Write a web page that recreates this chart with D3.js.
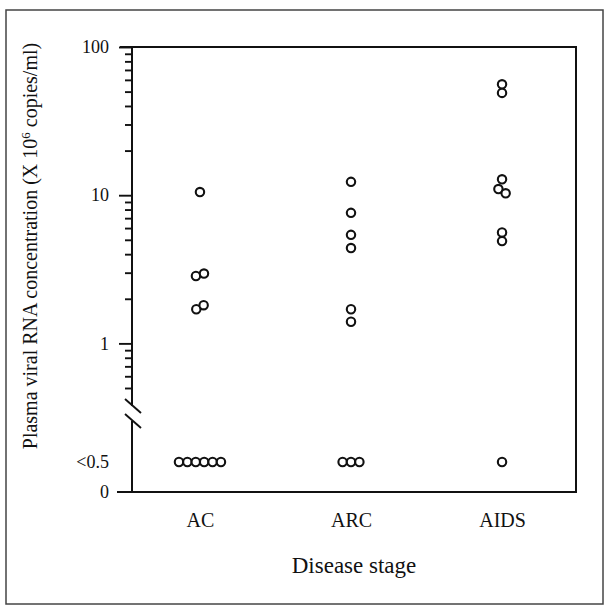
<!DOCTYPE html>
<html>
<head>
<meta charset="utf-8">
<script src="https://cdn.jsdelivr.net/npm/d3@7"></script>
<style>body { margin: 0; background: #fff; }</style>
</head>
<body>
<div id="chart"></div>
<script>
// Disease stages along the x axis
var stages = ['AC', 'ARC', 'AIDS'];
// Plasma viral RNA (x 10^6 copies/ml); null = below detection (<0.5)
var acValues = [10.5, 2.85, 2.96, 1.70, 1.81, null, null, null, null, null, null];
var arcValues = [12.3, 7.6, 5.4, 4.4, 1.7, 1.4, null, null, null];
var aidsValues = [56, 49, 12.8, 11.0, 10.3, 5.6, 4.9, null];
// y axis labels
var majorTicks = [1, 10, 100];
var lowTicks = [0, 0.5];
var lowLabels = ['0', '<0.5'];

var width = 609, height = 609;
var plotLeft = 132, plotRight = 576, plotTop = 47, plotBottom = 492;
var ink = '#111';
var serif = "'Liberation Serif', 'Times New Roman', serif";

var svg = d3.select('#chart')
  .append('svg')
  .attr('width', width)
  .attr('height', height);

// outer frame of the figure
svg.append('rect')
  .attr('x', 6).attr('y', 10)
  .attr('width', 597).attr('height', 594)
  .attr('fill', 'none')
  .attr('stroke', '#444')
  .attr('stroke-width', 1.5);

// scales
var xScale = d3.scalePoint()
  .domain(stages)
  .range([plotLeft, 570])
  .padding(0.45);

var yLog = d3.scaleLog()
  .domain([0.5, 100])
  .range([388, plotTop]);

// below the axis break: "0" and "<0.5"
var yLow = d3.scaleLinear()
  .domain([0, 0.5])
  .range([plotBottom, 462]);

// plot frame (top, right, bottom lines)
svg.append('path')
  .attr('d', 'M' + (plotLeft - 12) + ',' + plotTop + 'H' + plotRight + 'V' + plotBottom + 'H' + (plotLeft - 15))
  .attr('fill', 'none')
  .attr('stroke', ink)
  .attr('stroke-width', 2);

// left axis line with a break
var breakA = 406, breakB = 421;
svg.append('path')
  .attr('d', 'M' + plotLeft + ',' + plotTop + 'V' + breakA + 'M' + plotLeft + ',' + breakB + 'V' + plotBottom)
  .attr('stroke', ink)
  .attr('stroke-width', 2);

svg.selectAll('.break-mark')
  .data([breakA, breakB])
  .enter()
  .append('line')
  .attr('class', 'break-mark')
  .attr('x1', plotLeft - 7).attr('y1', function(d) { return d - 7; })
  .attr('x2', plotLeft + 9).attr('y2', function(d) { return d + 7; })
  .attr('stroke', ink)
  .attr('stroke-width', 1.9);

function styleAxis(g) {
  g.select('.domain').remove();
  g.selectAll('line').attr('stroke', ink).attr('stroke-width', 1.9);
  g.selectAll('text')
    .attr('fill', ink)
    .style('font-family', serif)
    .style('font-size', '18px');
}

// minor log ticks
var minorTicks = yLog.ticks().filter(function(t) { return majorTicks.indexOf(t) < 0; });
svg.append('g')
  .attr('transform', 'translate(' + plotLeft + ',0)')
  .call(d3.axisLeft(yLog).tickValues(minorTicks).tickSize(7).tickFormat(''))
  .call(styleAxis);

// major log ticks
svg.append('g')
  .attr('transform', 'translate(' + plotLeft + ',0)')
  .call(d3.axisLeft(yLog).tickValues(majorTicks).tickSize(13).tickPadding(10)
    .tickFormat(function(d) { return String(d); }))
  .call(styleAxis);

// ticks below the break
svg.append('g')
  .attr('transform', 'translate(' + plotLeft + ',0)')
  .call(d3.axisLeft(yLow).tickValues(lowTicks).tickSize(0).tickPadding(23)
    .tickFormat(function(d, i) { return lowLabels[i]; }))
  .call(styleAxis);

// x axis labels
svg.append('g')
  .attr('transform', 'translate(0,' + plotBottom + ')')
  .call(d3.axisBottom(xScale).tickSize(0).tickPadding(21))
  .call(styleAxis)
  .selectAll('text')
  .style('font-size', '20px');

// points
var groups = [acValues, arcValues, aidsValues];
var nodes = [];
groups.forEach(function(vals, gi) {
  vals.forEach(function(v, i) {
    var y = v === null ? yLow(0.5) : yLog(v);
    nodes.push({
      stage: stages[gi],
      value: v,
      x: xScale(stages[gi]) + (i - vals.length / 2) * 0.4,
      fy: y
    });
  });
});

var sim = d3.forceSimulation(nodes)
  .force('x', d3.forceX(function(d) { return xScale(d.stage); }).strength(0.08))
  .force('collide', d3.forceCollide(4.2).iterations(3))
  .stop();
for (var i = 0; i < 300; i++) sim.tick();

svg.selectAll('circle.pt')
  .data(nodes)
  .enter()
  .append('circle')
  .attr('class', 'pt')
  .attr('cx', function(d) { return d.x; })
  .attr('cy', function(d) { return d.fy; })
  .attr('r', 4.2)
  .attr('fill', '#fff')
  .attr('stroke', ink)
  .attr('stroke-width', 2.1);

// y axis title
var yTitle = svg.append('text')
  .attr('transform', 'translate(37,246) rotate(-90)')
  .attr('text-anchor', 'middle')
  .attr('fill', ink)
  .style('font-family', serif)
  .style('font-size', '20px');
yTitle.append('tspan').text('Plasma viral RNA concentration (X 10');
yTitle.append('tspan').attr('dy', -7).style('font-size', '13px').text('6');
yTitle.append('tspan').attr('dy', 7).text(' copies/ml)');

// x axis title
svg.append('text')
  .attr('x', 354)
  .attr('y', 573)
  .attr('text-anchor', 'middle')
  .attr('fill', ink)
  .style('font-family', serif)
  .style('font-size', '23px')
  .text('Disease stage');
</script>
</body>
</html>
